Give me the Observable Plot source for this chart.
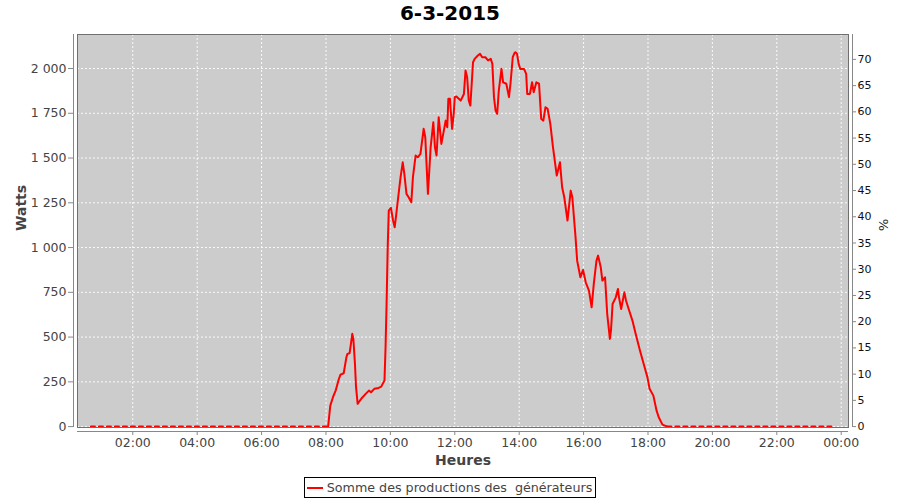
<!DOCTYPE html>
<html>
<head>
<meta charset="utf-8">
<script src="https://cdn.jsdelivr.net/npm/d3@7"></script>
<script src="https://cdn.jsdelivr.net/npm/@observablehq/plot@0.6"></script>
<style>
  body { margin: 0; background: #fff; font-family: "DejaVu Sans", sans-serif; }
  #title { height: 26px; line-height: 26px; text-align: center; font-weight: bold; font-size: 20px; color: #000; }
  #legend { height: 25px; display: flex; justify-content: center; align-items: flex-start; }
  #legend .box { margin-top: 2px; border: 1px solid #000; height: 19px; display: flex; align-items: center;
                 padding: 0 3px 0 2px; font-size: 12.7px; color: #444; white-space: pre; }
  #legend svg { margin-right: 4px; }
</style>
</head>
<body>
<div id="title">6-3-2015</div>
<div id="chart"></div>
<div id="legend"><div class="box"><svg id="swatch" width="16" height="6"></svg><span id="seriesName"></span></div></div>
<script>
// ---- data ----
const seriesName = "Somme des productions des  générateurs";
const times = [
  "00:42","08:04","08:08","08:13","08:18","08:24","08:27","08:33","08:38","08:40",
  "08:44","08:46","08:49","08:51","08:54","08:56","08:59","09:01","09:07","09:14",
  "09:20","09:24","09:30","09:38","09:43","09:47","09:49","09:51","09:53","09:55",
  "09:57","10:01","10:05","10:08","10:11","10:16","10:19","10:23","10:26","10:30",
  "10:34","10:39","10:42","10:47","10:51","10:56","11:02","11:05","11:10","11:15",
  "11:20","11:23","11:26","11:30","11:35","11:40","11:43","11:46","11:48","11:51",
  "11:52","11:55","11:58","12:00","12:03","12:11","12:17","12:20","12:23","12:26",
  "12:29","12:34","12:37","12:43","12:47","12:51","12:57","13:02","13:07","13:10",
  "13:13","13:16","13:19","13:22","13:27","13:30","13:36","13:41","13:44","13:48",
  "13:51","13:53","13:56","13:59","14:02","14:09","14:13","14:15","14:20","14:24",
  "14:27","14:32","14:37","14:41","14:45","14:49","14:53","14:58","15:03","15:10",
  "15:16","15:20","15:24","15:30","15:36","15:39","15:45","15:48","15:54","15:59",
  "16:04","16:10","16:15","16:19","16:24","16:27","16:32","16:35","16:40","16:44",
  "16:49","16:51","16:54","17:00","17:04","17:06","17:10","17:13","17:16","17:19",
  "17:24","17:31","17:37","17:45","17:52","17:59","18:03","18:10","18:16","18:20",
  "18:27","18:36","23:46"
];
const watts = [
  0,0,117,164,201,266,290,298,387,406,
  410,452,518,490,350,220,127,136,160,183,
  201,192,211,216,223,247,257,443,700,1002,
  1207,1222,1151,1113,1188,1318,1393,1476,1412,1300,
  1281,1253,1393,1514,1504,1523,1663,1616,1300,1560,
  1700,1560,1514,1728,1579,1660,1709,1672,1831,1831,
  1784,1663,1747,1840,1844,1821,1858,1989,1952,1821,
  1793,2035,2054,2073,2082,2063,2063,2045,2054,2026,
  1840,1765,1747,1877,1998,1923,1915,1840,1923,2063,
  2085,2091,2082,2026,1998,1998,1970,1858,1858,1923,
  1868,1923,1915,1719,1709,1784,1775,1691,1560,1402,
  1476,1337,1281,1151,1318,1281,1058,927,834,875,
  806,760,666,797,927,955,890,816,834,630,
  490,536,685,722,769,722,657,704,750,704,
  657,592,518,425,350,275,211,173,89,52,
  11,0,0
];
const xTickMinutes = [120,240,360,480,600,720,840,960,1080,1200,1320,1440];
const xTickLabels = ["02:00","04:00","06:00","08:00","10:00","12:00","14:00","16:00","18:00","20:00","22:00","00:00"];
const yTicks = [0,250,500,750,1000,1250,1500,1750,2000];
const yTickLabels = ["0","250","500","750","1 000","1 250","1 500","1 750","2 000"];
const pctTicks = [0,5,10,15,20,25,30,35,40,45,50,55,60,65,70];
const capacityW = 2930; // 100 % on the right axis

// ---- build rows ----
const toMin = s => { const [h, m] = s.split(":").map(Number); return h * 60 + m; };
const rows = times.map((t, i) => ({t: toMin(t), w: watts[i]}));
const firstNZ = rows.findIndex(d => d.w > 0);
let lastNZ = rows.length - 1; while (rows[lastNZ].w === 0) lastNZ--;
const dayRows = rows.slice(firstNZ - 1, lastNZ + 2);
const nightRows = [
  ...rows.slice(0, firstNZ).map(d => ({...d, seg: "am"})),
  ...rows.slice(lastNZ + 1).map(d => ({...d, seg: "pm"}))
];

const xDomain = [17, 1453.6];
const yDomain = [-5, 2190];
const red = "#ff0000";

const chart = Plot.plot({
  width: 900, height: 449,
  marginTop: 8, marginBottom: 48, marginLeft: 77, marginRight: 52,
  style: {fontFamily: "DejaVu Sans", fontSize: "12px", background: "#fff", color: "#444"},
  x: {type: "linear", domain: xDomain},
  y: {domain: yDomain},
  marks: [
    Plot.frame({fill: "#cccccc", stroke: null}),
    Plot.ruleX(xTickMinutes, {stroke: "#fff", strokeOpacity: 0.9, strokeDasharray: "2,2"}),
    Plot.ruleY(yTicks, {stroke: "#fff", strokeOpacity: 0.9, strokeDasharray: "2,2"}),
    Plot.line(nightRows, {x: "t", y: "w", z: "seg", stroke: red, strokeWidth: 2, strokeDasharray: "4,4"}),
    Plot.line(dayRows, {x: "t", y: "w", stroke: red, strokeWidth: 2}),
    Plot.frame({stroke: "#707070"}),
    // axis lines (offset from the plot area)
    Plot.ruleX([xDomain[0]], {dx: -4, stroke: "#888"}),
    Plot.ruleX([xDomain[1]], {dx: 4, stroke: "#888"}),
    Plot.ruleY([yDomain[0]], {dy: 4, stroke: "#888"}),
    Plot.axisX(xTickMinutes, {anchor: "bottom", dy: 4, tickSize: 4, tickPadding: 3, label: null,
      stroke: "#888", fill: "#444", fontSize: 12.5,
      tickFormat: d => xTickLabels[xTickMinutes.indexOf(d)]}),
    Plot.axisY(yTicks, {anchor: "left", dx: -4, tickSize: 5, tickPadding: 2, label: null,
      stroke: "#888", fill: "#444", fontSize: 12.5,
      tickFormat: d => yTickLabels[yTicks.indexOf(d)]}),
    Plot.axisY(pctTicks.map(p => p * capacityW / 100), {anchor: "right", dx: 4, tickSize: 3, tickPadding: 2, label: null,
      stroke: "#888", fill: "#111", fontSize: 11,
      tickFormat: d => String(pctTicks[Math.round(d / capacityW * 100 / 5)])}),
    Plot.text(["Watts"], {frameAnchor: "left", dx: -56, rotate: -90, fontWeight: "bold", fontSize: 14, fill: "#444", lineAnchor: "middle"}),
    Plot.text(["Heures"], {frameAnchor: "bottom", dy: 33, fontWeight: "bold", fontSize: 14, fill: "#444", lineAnchor: "middle"}),
    Plot.text(["%"], {frameAnchor: "right", dx: 35, rotate: 90, fontSize: 13, fill: "#222", lineAnchor: "middle"})
  ]
});
document.getElementById("chart").appendChild(chart);

// legend
document.getElementById("seriesName").textContent = seriesName;
const sw = d3.select("#swatch");
sw.append("line").attr("x1", 0).attr("x2", 16).attr("y1", 3).attr("y2", 3).attr("stroke", red).attr("stroke-width", 2);
</script>
</body>
</html>
